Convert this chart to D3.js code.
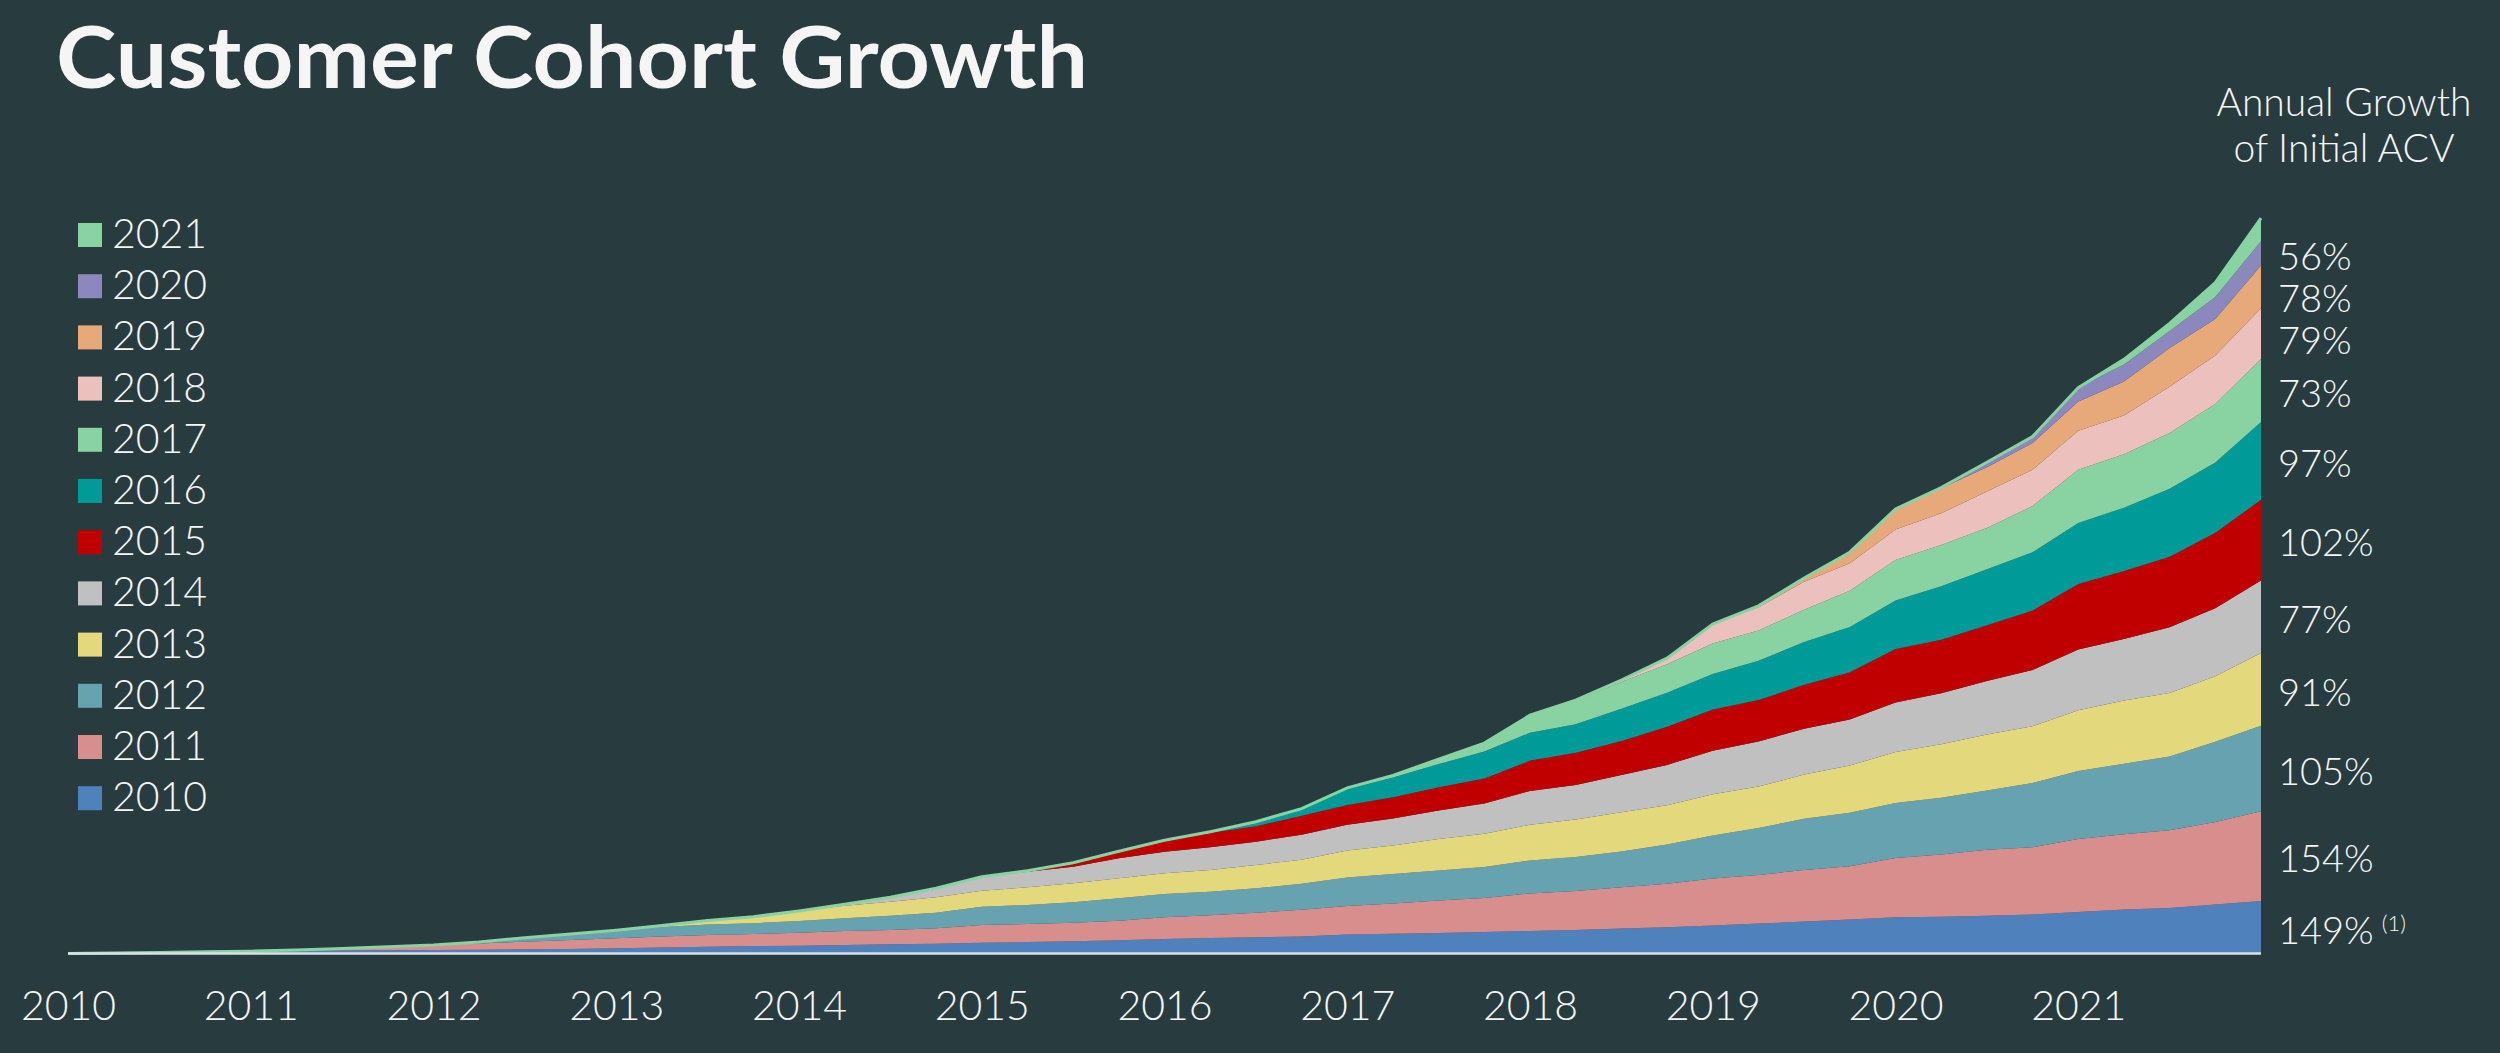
<!DOCTYPE html>
<html>
<head>
<meta charset="utf-8">
<script src="https://cdn.jsdelivr.net/npm/d3@7"></script>
<style>
  html, body { margin: 0; padding: 0; background: #283c40; }
  svg { display: block; }
  text { font-family: Lato, 'Open Sans', sans-serif; fill: #f5f5f5; }
</style>
</head>
<body>
<svg id="chart" width="2500" height="1053"></svg>
<script>
// cohort years, also the x-axis tick labels
const years = ['2010', '2011', '2012', '2013', '2014', '2015', '2016', '2017', '2018', '2019', '2020', '2021'];

// ACV per cohort, one value per quarter starting at the cohort's own year
const c2010 = [0, 0.6, 1.2, 1.8, 2.4, 2.7, 3.0, 3.3, 3.6, 3.9, 4.3, 4.7, 5.3, 6.0, 6.9, 7.6, 7.9, 8.6, 9.3, 9.9, 10.9, 11.6, 12.3, 13.3, 14.6, 15.6, 16.3, 17.2, 19.0, 19.9, 20.6, 21.6, 22.7, 23.5, 25.2, 26.3, 28.1, 30.0, 32.0, 34.0, 36.3, 36.8, 37.8, 39.2, 41.7, 44.1, 45.6, 49.0, 52.7];
const c2011 = [0, 1.0, 2.0, 3.5, 5.0, 6.3, 7.6, 8.8, 10.0, 11.0, 11.7, 12.0, 13.0, 14.0, 14.3, 15.4, 17.7, 18.0, 18.6, 19.6, 21.7, 22.7, 24.6, 26.7, 28.5, 30.3, 32.5, 34.0, 37.5, 39.2, 41.1, 43.6, 47.0, 48.5, 51.7, 53.4, 59.3, 62.2, 66.1, 67.1, 72.9, 75.3, 77.7, 82.6, 89.6];
const c2012 = [0, 1.5, 4.0, 6.0, 8.0, 9.5, 10.5, 10.7, 11.7, 12.7, 14.3, 15.6, 18.3, 19.0, 20.4, 22.4, 23.3, 23.6, 24.4, 26.0, 28.6, 29.5, 30.0, 31.0, 32.9, 33.9, 35.7, 39.2, 42.9, 47.0, 51.1, 53.5, 54.9, 56.9, 59.3, 64.2, 68.0, 70.5, 73.9, 80.2, 85.5];
const c2013 = [0, 1.5, 4.0, 6.6, 10.0, 12.5, 14.0, 15.4, 16.0, 17.7, 19.0, 20.0, 20.7, 21.7, 23.3, 24.0, 27.0, 28.5, 31.4, 33.2, 35.7, 37.5, 39.3, 39.3, 41.4, 41.5, 44.3, 47.2, 51.1, 53.4, 55.9, 56.8, 60.8, 63.2, 63.5, 65.6, 72.9];
const c2014 = [0, 1.5, 4.5, 9.0, 14.0, 15.6, 16.6, 20.0, 21.6, 22.7, 23.3, 25.0, 25.7, 26.8, 28.5, 30.4, 33.9, 34.6, 37.4, 40.3, 43.5, 45.0, 45.8, 46.0, 49.5, 51.1, 53.4, 56.4, 60.7, 61.5, 65.6, 68.0, 72.4];
const c2015 = [0, 1.0, 4.0, 7.0, 11.5, 14.6, 15.5, 19.0, 19.8, 21.4, 23.3, 25.0, 30.3, 32.2, 34.0, 38.2, 41.1, 41.5, 43.9, 47.2, 53.5, 53.5, 55.9, 59.3, 65.6, 68.1, 70.5, 75.4, 80.7];
const c2016 = [0, 1.0, 4.5, 7.0, 17.1, 19.7, 23.2, 26.8, 27.9, 28.5, 32.1, 34.0, 35.7, 39.3, 42.8, 45.2, 48.6, 53.5, 55.9, 58.3, 60.8, 63.2, 68.0, 70.4, 77.8];
const c2017 = [0, 2.0, 5.0, 8.5, 17.5, 23.2, 26.8, 28.5, 30.3, 30.3, 32.2, 36.4, 40.3, 41.3, 41.3, 46.2, 53.4, 53.4, 55.9, 58.3, 63.1];
const c2018 = [0, 0.8, 2.0, 6.0, 19.5, 23.3, 28.0, 27.5, 30.6, 31.6, 36.5, 36.4, 38.9, 38.9, 46.2, 48.6, 50.6];
const c2019 = [0, 1.3, 3.8, 11.0, 20.5, 25.0, 24.3, 26.7, 29.2, 34.0, 38.8, 36.5, 42.8];
const c2020 = [0, 0.8, 5.0, 6.5, 14.0, 17.0, 17.0, 21.9, 24.3];
const c2021 = [0, 5.0, 7.5, 14.5, 23.0];

// annual growth of initial ACV, 2010 .. 2020 cohorts
const growthLabels = ['149%', '154%', '105%', '91%', '77%', '102%', '97%', '73%', '79%', '78%', '56%'];

const cohortValues = [c2010, c2011, c2012, c2013, c2014, c2015, c2016, c2017, c2018, c2019, c2020, c2021];

const colors = {
  '2010': '#4f81bd', '2011': '#d98e8e', '2012': '#67a2b0', '2013': '#e3d87c',
  '2014': '#c0c0c0', '2015': '#c00000', '2016': '#009a99', '2017': '#89d3a2',
  '2018': '#ecc1bd', '2019': '#e8a97a', '2020': '#8a88bd', '2021': '#89d3a2'
};

const svg = d3.select('#chart');

// quarterly time points from the start of 2010 to the end of 2021
const quarters = years.flatMap(y => [0, 0.25, 0.5, 0.75].map(q => +y + q)).concat([+years[years.length - 1] + 1]);

const table = quarters.map((t, i) => {
  const row = { t: t };
  years.forEach((y, k) => {
    const offset = (+y - +years[0]) * 4;
    const v = cohortValues[k][i - offset];
    row[y] = v == null ? 0 : v;
  });
  return row;
});

const x = d3.scaleLinear().domain([2010, 2022]).range([68, 2261]);
const y = d3.scaleLinear().domain([0, 800]).range([953.6, 153.6]);

const layers = d3.stack().keys(years)(table);

const area = d3.area()
  .x(d => x(d.data.t))
  .y0(d => y(d[0]))
  .y1(d => y(d[1]));

svg.append('g')
  .selectAll('path')
  .data(layers)
  .join('path')
  .attr('d', area)
  .attr('fill', d => colors[d.key]);

// thin green outline along the top of the stack
const topLine = d3.line()
  .x(d => x(d.data.t))
  .y(d => y(d[1]));
svg.append('path')
  .datum(layers[layers.length - 1])
  .attr('d', topLine)
  .attr('fill', 'none')
  .attr('stroke', '#89d3a2')
  .attr('stroke-width', 3);

// light baseline
svg.append('line')
  .attr('x1', x(2010)).attr('x2', x(2022))
  .attr('y1', y(0)).attr('y2', y(0))
  .attr('stroke', '#d8e2e6')
  .attr('stroke-width', 2.5);

// x axis
const xAxis = d3.axisBottom(x)
  .tickValues(years.map(Number))
  .tickFormat(d3.format('d'))
  .tickSize(0);
const gx = svg.append('g')
  .attr('transform', `translate(0,${y(0)})`)
  .call(xAxis);
gx.select('.domain').remove();
gx.selectAll('text')
  .attr('y', 66)
  .attr('dy', 0)
  .style('font-family', 'Lato, sans-serif')
  .style('font-size', '41px')
  .style('font-weight', 300)
  .attr('fill', '#f5f5f5');

// title
svg.append('text')
  .attr('x', 56)
  .attr('y', 88)
  .attr('textLength', 1032)
  .attr('lengthAdjust', 'spacingAndGlyphs')
  .style('font-size', '86px')
  .style('font-weight', 700)
  .text('Customer Cohort Growth');

// legend, newest cohort on top
const legendItems = svg.append('g')
  .selectAll('g')
  .data(years.slice().reverse())
  .join('g')
  .attr('transform', (d, i) => `translate(78,${223 + i * 51.2})`);
legendItems.append('rect')
  .attr('width', 24)
  .attr('height', 24)
  .attr('fill', d => colors[d]);
legendItems.append('text')
  .attr('x', 34)
  .attr('y', 25)
  .style('font-size', '41px')
  .style('font-weight', 300)
  .text(d => d);

// right-hand header
const header = svg.append('text')
  .attr('text-anchor', 'middle')
  .style('font-size', '39px')
  .style('font-weight', 300);
header.append('tspan').attr('x', 2344).attr('y', 116).text('Annual Growth');
header.append('tspan').attr('x', 2344).attr('y', 162).text('of Initial ACV');

// growth labels at the band middles on the right edge, nudged apart where crowded
const last = table.length - 1;
const labelY = layers.slice(0, growthLabels.length).map(l => y((l[last][0] + l[last][1]) / 2));
for (let k = labelY.length - 2; k >= 0; k--) {
  labelY[k] = Math.max(labelY[k], labelY[k + 1] + 42);
}
const gLabels = svg.append('g');
growthLabels.forEach((lab, k) => {
  const t = gLabels.append('text')
    .attr('x', 2278)
    .attr('y', labelY[k] + 3)
    .attr('dy', '0.35em')
    .style('font-size', '38px')
    .style('font-weight', 300)
    .text(lab);
  if (k === 0) {
    t.append('tspan')
      .attr('dx', 8)
      .attr('dy', '-0.55em')
      .style('font-size', '22px')
      .text('(1)');
  }
});
</script>
</body>
</html>
